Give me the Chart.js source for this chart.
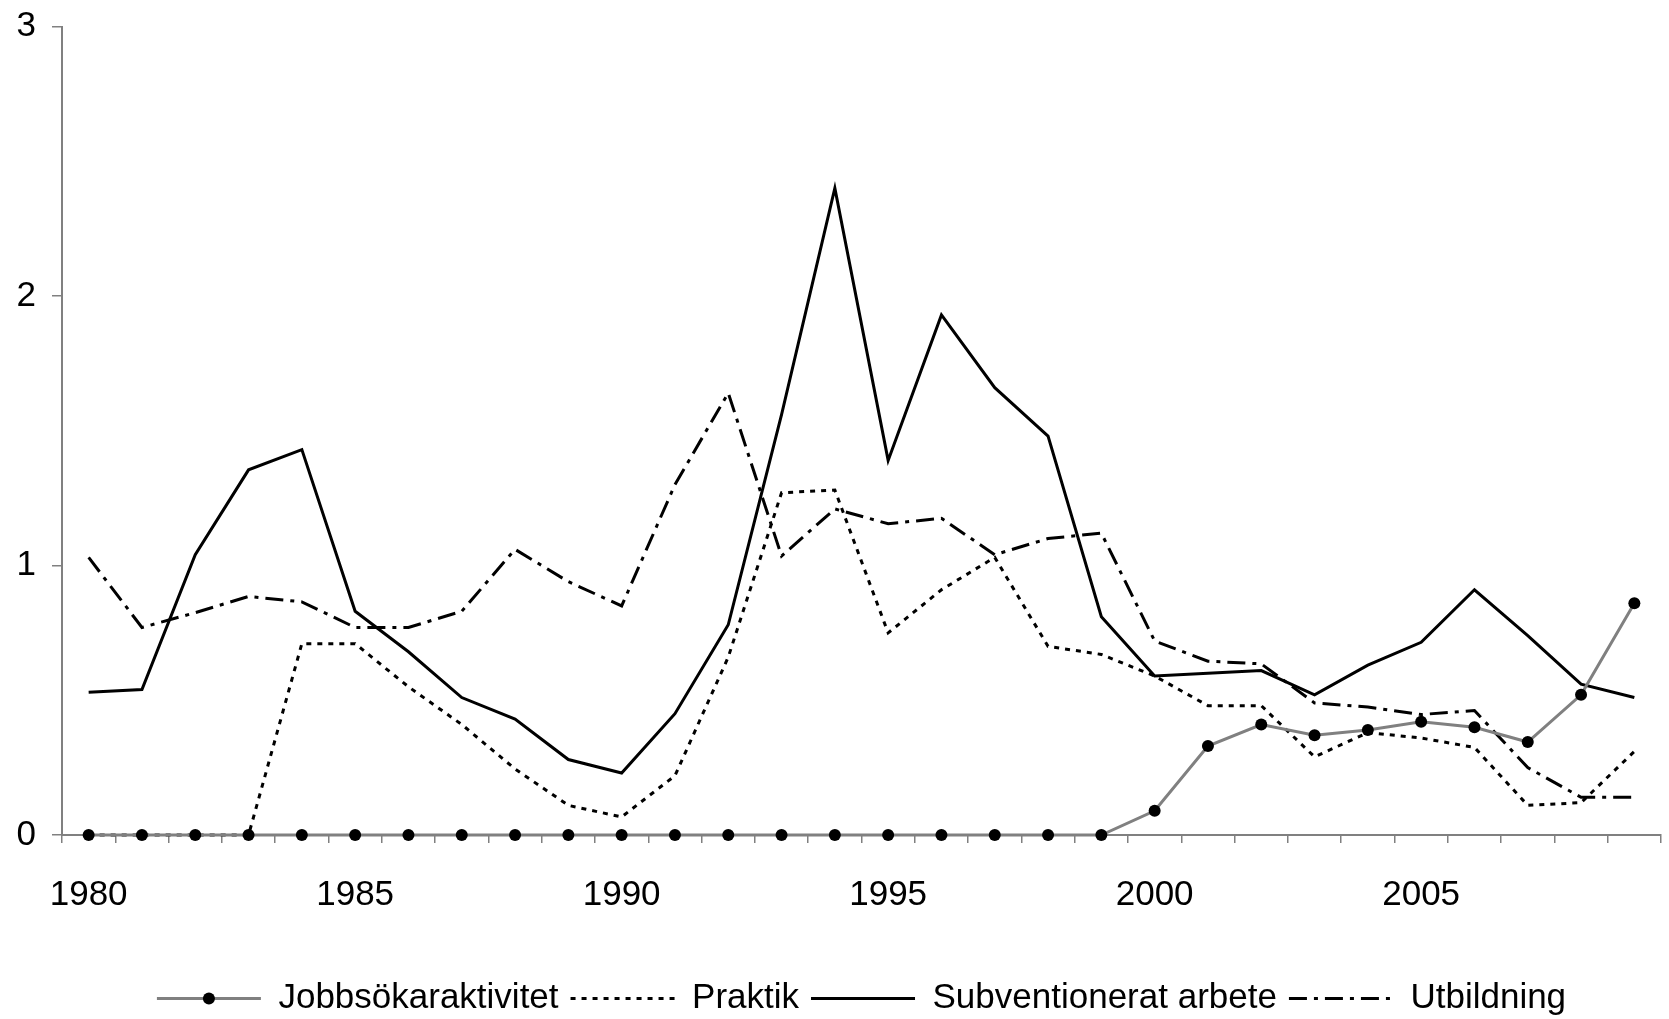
<!DOCTYPE html>
<html>
<head>
<meta charset="utf-8">
<script src="https://cdn.jsdelivr.net/npm/chart.js@4/dist/chart.umd.min.js"></script>
<style>
  html, body { margin: 0; padding: 0; background: #fff; }
  canvas { display: block; }
</style>
</head>
<body>
<canvas id="chart" width="1669" height="1019"></canvas>
<script>
// År 1980-2009
const years = [1980, 1981, 1982, 1983, 1984, 1985, 1986, 1987, 1988, 1989,
               1990, 1991, 1992, 1993, 1994, 1995, 1996, 1997, 1998, 1999,
               2000, 2001, 2002, 2003, 2004, 2005, 2006, 2007, 2008, 2009];

const jobbsok = [0, 0, 0, 0, 0, 0, 0, 0, 0, 0,
                 0, 0, 0, 0, 0, 0, 0, 0, 0, 0,
                 0.09, 0.33, 0.41, 0.37, 0.39, 0.42, 0.40, 0.345, 0.52, 0.86];

const praktik = [0, 0, 0, 0, 0.71, 0.71, 0.55, 0.41, 0.245, 0.11,
                 0.067, 0.22, 0.66, 1.27, 1.28, 0.75, 0.91, 1.03, 0.70, 0.67,
                 0.59, 0.48, 0.48, 0.29, 0.38, 0.36, 0.325, 0.11, 0.12, 0.31];

const subventionerat = [0.53, 0.54, 1.04, 1.355, 1.43, 0.83, 0.68, 0.51, 0.43, 0.28,
                        0.23, 0.45, 0.78, 1.56, 2.40, 1.39, 1.93, 1.66, 1.48, 0.81,
                        0.59, 0.60, 0.61, 0.52, 0.63, 0.715, 0.91, 0.74, 0.56, 0.51];

const utbildning = [1.03, 0.77, 0.825, 0.885, 0.865, 0.77, 0.77, 0.83, 1.06, 0.94,
                    0.85, 1.30, 1.64, 1.035, 1.21, 1.155, 1.175, 1.04, 1.10, 1.12,
                    0.72, 0.645, 0.635, 0.49, 0.475, 0.447, 0.462, 0.25, 0.14, 0.14];

const yTicks = [0, 1, 2, 3];

const fontFamily = "'Liberation Sans', Arial, sans-serif";
const axisGray = '#808080';
const legendLineW = 104;

// punkt mitt på legendlinjen för Jobbsökaraktivitet
const legendDot = {
    id: 'legendDot',
    afterDraw(chart) {
        const hb = chart.legend.legendHitBoxes[0];
        if (!hb) return;
        const ctx = chart.ctx;
        ctx.save();
        ctx.fillStyle = '#000';
        ctx.beginPath();
        ctx.arc(hb.left + legendLineW / 2, hb.top + hb.height / 2, 6, 0, Math.PI * 2);
        ctx.fill();
        ctx.restore();
    }
};

new Chart(document.getElementById('chart'), {
    type: 'line',
    data: {
        labels: years,
        datasets: [
            {
                label: 'Jobbsökaraktivitet',
                data: jobbsok,
                borderColor: axisGray,
                borderWidth: 3,
                pointRadius: 6,
                pointBackgroundColor: '#000',
                pointBorderWidth: 0,
                clip: false,
                tension: 0
            },
            {
                label: 'Praktik',
                data: praktik,
                borderColor: '#000',
                borderWidth: 3,
                borderDash: [5, 6],
                pointRadius: 0,
                clip: false,
                tension: 0
            },
            {
                label: 'Subventionerat arbete',
                data: subventionerat,
                borderColor: '#000',
                borderWidth: 3,
                pointRadius: 0,
                tension: 0
            },
            {
                label: 'Utbildning',
                data: utbildning,
                borderColor: '#000',
                borderWidth: 3,
                borderDash: [18, 7, 4, 7],
                pointRadius: 0,
                tension: 0
            }
        ]
    },
    options: {
        responsive: false,
        animation: false,
        devicePixelRatio: 1,
        layout: { padding: { top: 23, right: 8, bottom: 0, left: 0 } },
        plugins: {
            legend: {
                position: 'bottom',
                fullSize: false,
                maxHeight: 50,
                labels: {
                    usePointStyle: true,
                    pointStyleWidth: legendLineW,
                    padding: 12,
                    color: '#000',
                    font: { family: fontFamily, size: 35 },
                    generateLabels: function (chart) {
                        const items = Chart.defaults.plugins.legend.labels.generateLabels(chart);
                        items.forEach(it => {
                            const ds = chart.data.datasets[it.datasetIndex];
                            it.pointStyle = 'line';
                            it.strokeStyle = ds.borderColor;
                            it.lineWidth = ds.borderWidth;
                            it.lineDash = ds.borderDash || [];
                        });
                        return items;
                    }
                }
            },
            tooltip: { enabled: false }
        },
        scales: {
            x: {
                type: 'category',
                offset: true,
                afterFit: function (scale) { scale.height = 134; },
                grid: {
                    display: true,
                    offset: true,
                    drawOnChartArea: false,
                    drawTicks: true,
                    tickLength: 8,
                    color: axisGray,
                    lineWidth: 1.5
                },
                border: { display: true, color: axisGray, width: 2 },
                ticks: {
                    autoSkip: false,
                    maxRotation: 0,
                    padding: 31,
                    color: '#000',
                    font: { family: fontFamily, size: 35 },
                    callback: function (value, index) {
                        const y = years[index];
                        return y % 5 === 0 ? String(y) : '';
                    }
                }
            },
            y: {
                min: 0,
                max: 3,
                afterFit: function (scale) { scale.width = 62; },
                afterBuildTicks: function (scale) {
                    scale.ticks = yTicks.map(v => ({ value: v }));
                },
                grid: {
                    display: true,
                    drawOnChartArea: false,
                    tickLength: 10,
                    color: axisGray,
                    lineWidth: 1.5
                },
                border: { display: true, color: axisGray, width: 2 },
                ticks: {
                    padding: 16,
                    color: '#000',
                    font: { family: fontFamily, size: 35, lineHeight: 0.6 }
                }
            }
        }
    },
    plugins: [legendDot]
});
</script>
</body>
</html>
